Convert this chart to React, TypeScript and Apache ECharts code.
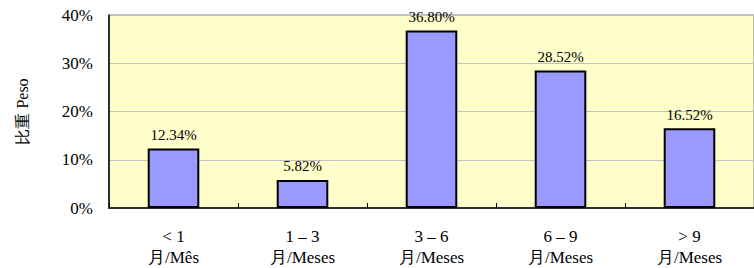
import React, { useEffect, useRef } from "react";
import * as echarts from "echarts";

const categories = ["< 1\n月/Mês", "1 – 3\n月/Meses", "3 – 6\n月/Meses", "6 – 9\n月/Meses", "> 9\n月/Meses"];
const values = [12.34, 5.82, 36.8, 28.52, 16.52];
const yTicks = { min: 0, max: 40, interval: 10 };
const yName = "比重 Peso";

const FONT = "Liberation Serif";

export default function App() {
  const ref = useRef<HTMLDivElement>(null);
  useEffect(() => {
    if (!ref.current) return;
    const chart = echarts.init(ref.current, undefined, { renderer: "svg" });
    chart.setOption({
      animation: false,
      backgroundColor: "#ffffff",
      textStyle: { fontFamily: FONT },
      grid: {
        left: 109,
        top: 15,
        width: 646,
        bottom: 58,
        show: true,
        backgroundColor: "#FFFFCC",
        borderColor: "#808080",
        borderWidth: 1,
      },
      xAxis: {
        type: "category",
        data: categories,
        axisLine: { lineStyle: { color: "#000", width: 1.5 } },
        axisTick: { show: true, inside: true, length: 5, lineStyle: { color: "#000" } },
        axisLabel: {
          color: "#000",
          fontFamily: FONT,
          fontSize: 17,
          lineHeight: 21,
          margin: 18,
        },
        splitLine: { show: false },
      },
      yAxis: {
        type: "value",
        min: yTicks.min,
        max: yTicks.max,
        interval: yTicks.interval,
        name: yName,
        nameLocation: "middle",
        nameRotate: 90,
        nameGap: 79,
        nameTextStyle: { color: "#000", fontFamily: FONT, fontSize: 16 },
        axisLine: { show: true, lineStyle: { color: "#000", width: 1.5 } },
        axisTick: { show: false },
        axisLabel: {
          color: "#000",
          fontFamily: FONT,
          fontSize: 17,
          margin: 16,
          formatter: "{value}%",
        },
        splitLine: { show: true, lineStyle: { color: "#C0C0C0", width: 1 } },
      },
      series: [
        {
          type: "bar",
          data: values,
          barWidth: "40%",
          itemStyle: { color: "#9999FF", borderColor: "#000", borderWidth: 2 },
          label: {
            show: true,
            position: "top",
            distance: 6,
            color: "#000",
            fontFamily: FONT,
            fontSize: 15,
            formatter: (p: any) => p.value.toFixed(2) + "%",
          },
        },
      ],
    });
    return () => chart.dispose();
  }, []);
  return (
    <div
      ref={ref}
      style={{ position: "fixed", left: 0, top: 0, width: 754, height: 268 }}
    />
  );
}
